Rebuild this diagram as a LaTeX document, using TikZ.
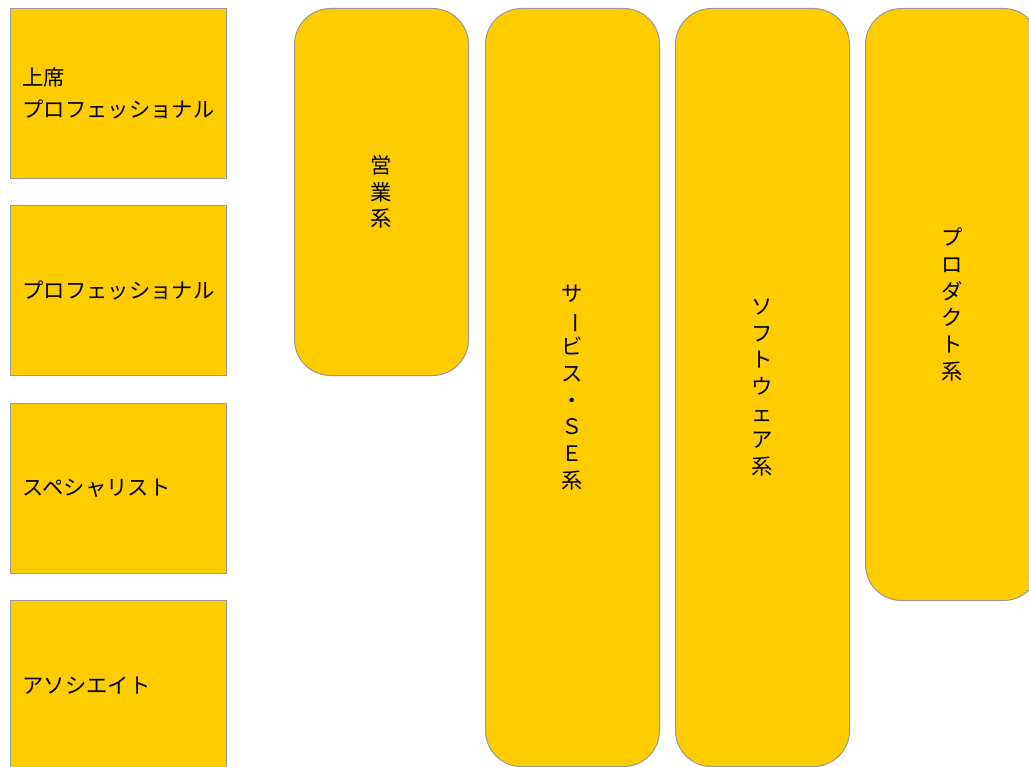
\documentclass[tikz,border=0pt]{standalone}
\usepackage{fontspec}
\setmainfont{Noto Sans CJK JP}
\usepackage{graphicx}
\definecolor{boxfill}{HTML}{FFCC00}
\definecolor{boxline}{HTML}{9A9A9A}
\newcommand{\vchoon}{\rotatebox[origin=c]{-90}{ー}}
\begin{document}
\begin{tikzpicture}[x=0.75pt,y=-0.75pt,
  sq/.style={draw=boxline, fill=boxfill, line width=0.75pt, minimum width=162pt, minimum height=127.5pt,
    text width=144pt, align=left, inner xsep=9pt, font=\fontsize{16}{24}\selectfont, anchor=north west},
  col/.style={draw=boxline, fill=boxfill, line width=0.75pt, rounded corners=27pt, minimum width=130.5pt,
    align=center, font=\fontsize{16}{20}\selectfont, anchor=north west}]
\useasboundingbox (0,0) rectangle (1029,767);
\clip (0,0) rectangle (1029,767);
\fill[white] (0,0) rectangle (1029,767);
\node[sq] (s1) at (10,8) {上席\\プロフェッショナル};
\node[sq] (s2) at (10,205) {プロフェッショナル};
\node[sq] (s3) at (10,402.5) {スペシャリスト};
\node[sq] (s4) at (10,600) {アソシエイト};
\node[col, minimum height=275.25pt] (c1) at (294,8) {営\\業\\系};
\node[col, minimum height=568.5pt] (c2) at (485,8) {サ\\\vchoon\\ビ\\ス\\・\\Ｓ\\Ｅ\\系};
\node[col, minimum height=568.5pt] (c3) at (675,8) {ソ\\フ\\ト\\ウ\\ェ\\ア\\系};
\node[col, minimum height=444pt] (c4) at (865,8) {プ\\ロ\\ダ\\ク\\ト\\系};
\end{tikzpicture}
\end{document}
